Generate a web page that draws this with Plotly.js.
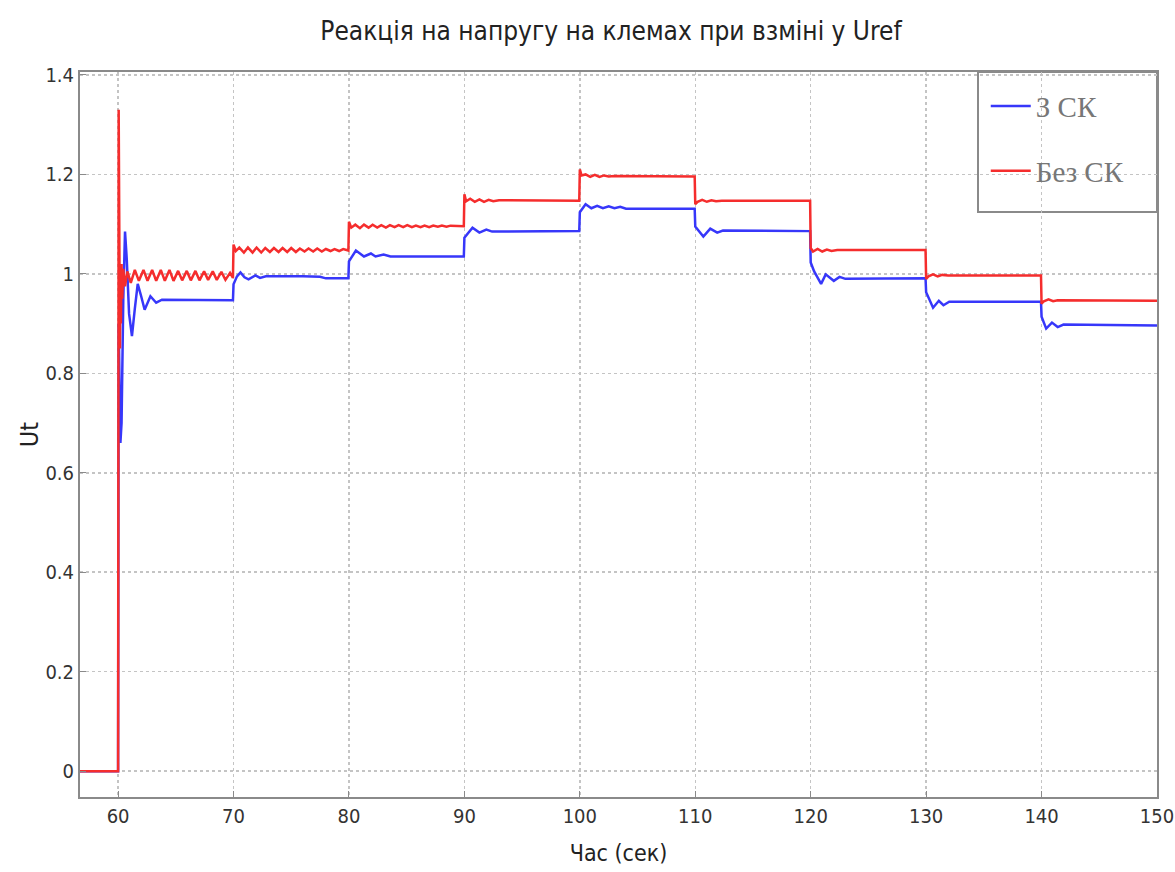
<!DOCTYPE html>
<html>
<head>
<meta charset="utf-8">
<script src="https://cdn.plot.ly/plotly-3.0.1.min.js"></script>
<style>html,body{margin:0;padding:0;background:#fff;}#chart{width:1175px;height:872px;}</style>
</head>
<body>
<div id="chart"></div>
<script>
const chartTitle = "Реакція на напругу на клемах при взміні у Uref";
const xLabel = "Час (сек)";
const yLabel = "Ut";
const seriesNames = ["З СК", "Без СК"];
const xTicks = [60, 70, 80, 90, 100, 110, 120, 130, 140, 150];
const yTicks = [0, 0.2, 0.4, 0.6, 0.8, 1, 1.2, 1.4];

const tWith = [56.5, 60.0, 60.05, 60.12, 60.2, 60.3, 60.45, 60.6, 60.75, 60.95, 61.2, 61.45, 61.7, 62.0, 62.3, 62.8, 63.3, 63.8, 69.95,
  70.0, 70.3, 70.6, 70.95, 71.3, 71.9, 72.3, 72.8, 76.0, 77.5, 78.0, 79.95,
  80.0, 80.6, 81.3, 81.9, 82.3, 83.0, 83.6, 89.95,
  90.0, 90.7, 91.3, 91.9, 92.4, 99.95,
  100.0, 100.5, 101.0, 101.5, 102.0, 102.5, 103.0, 103.5, 104.0, 109.95,
  110.0, 110.7, 111.3, 111.9, 112.4, 119.95,
  120.0, 120.3, 120.9, 121.3, 122.0, 122.5, 123.0, 129.95,
  130.0, 130.6, 131.1, 131.5, 132.0, 139.95,
  140.0, 140.4, 140.9, 141.4, 141.9, 150.0];
const uWith = [0, 0, 0.9, 0.72, 0.66, 0.7, 0.95, 1.085, 1.03, 0.92, 0.875, 0.93, 0.98, 0.955, 0.928, 0.955, 0.942, 0.948, 0.947,
  0.979, 0.995, 1.003, 0.993, 0.989, 0.997, 0.992, 0.995, 0.995, 0.994, 0.991, 0.991,
  1.025, 1.047, 1.035, 1.041, 1.035, 1.039, 1.035, 1.035,
  1.073, 1.093, 1.083, 1.089, 1.085, 1.086,
  1.124, 1.14, 1.132, 1.137, 1.132, 1.136, 1.132, 1.135, 1.131, 1.131,
  1.095, 1.075, 1.091, 1.083, 1.087, 1.086,
  1.023, 1.005, 0.98, 0.999, 0.986, 0.994, 0.99, 0.991,
  0.963, 0.932, 0.946, 0.937, 0.944, 0.944,
  0.914, 0.89, 0.902, 0.893, 0.898, 0.896];

const tWithout = [56.5, 60.0, 60.05, 60.1, 60.13, 60.16, 60.2, 60.24, 60.3, 60.36, 60.45, 60.6, 60.8, 61.1,
  61.45, 61.8, 62.2, 62.55, 62.95, 63.3, 63.7, 64.05, 64.45, 64.8, 65.2, 65.55, 65.95, 66.3, 66.7, 67.05, 67.45, 67.8, 68.2, 68.55, 68.95, 69.3, 69.7, 69.95,
  70.0, 70.2, 70.5, 70.9, 71.25, 71.65, 72.0, 72.4, 72.75, 73.15, 73.5, 73.9, 74.25, 74.65, 75.0, 75.4, 75.75, 76.15, 76.5, 76.9, 77.25, 77.65, 78.0, 78.4, 78.75, 79.15, 79.5, 79.95,
  80.0, 80.2, 80.55, 80.95, 81.3, 81.7, 82.05, 82.45, 82.8, 83.2, 83.55, 83.95, 84.3, 84.7, 85.05, 85.45, 85.8, 86.2, 86.55, 86.95, 87.3, 87.7, 88.05, 88.45, 88.8, 89.95,
  90.0, 90.15, 90.5, 90.9, 91.3, 91.7, 92.1, 92.5, 93.0, 99.95,
  100.0, 100.15, 100.5, 100.9, 101.3, 101.7, 102.1, 102.5, 103.0, 109.95,
  110.0, 110.2, 110.6, 111.0, 111.4, 111.8, 112.3, 119.95,
  120.0, 120.2, 120.6, 121.0, 121.4, 121.8, 122.3, 129.95,
  130.0, 130.2, 130.6, 131.0, 131.4, 131.9, 139.95,
  140.0, 140.2, 140.6, 141.0, 141.4, 150.0];
const uWithout = [0, 0, 1.33, 0.9, 1.02, 0.85, 1.0, 0.9, 1.02, 0.95, 1.01, 0.975, 1.005, 0.982,
  1.008, 0.986, 1.008, 0.986, 1.008, 0.986, 1.008, 0.986, 1.008, 0.986, 1.006, 0.987, 1.006, 0.987, 1.006, 0.987, 1.005, 0.988, 1.005, 0.988, 1.004, 0.988, 1.002, 0.992,
  1.059, 1.046, 1.053, 1.043, 1.053, 1.043, 1.053, 1.043, 1.052, 1.044, 1.052, 1.044, 1.052, 1.044, 1.052, 1.044, 1.051, 1.045, 1.051, 1.045, 1.051, 1.045, 1.05, 1.046, 1.05, 1.046, 1.05, 1.047,
  1.105, 1.093, 1.099, 1.092, 1.099, 1.093, 1.099, 1.093, 1.098, 1.093, 1.098, 1.094, 1.098, 1.094, 1.098, 1.094, 1.097, 1.094, 1.097, 1.094, 1.097, 1.095, 1.097, 1.095, 1.097, 1.096,
  1.16, 1.146, 1.151, 1.145, 1.15, 1.145, 1.149, 1.146, 1.148, 1.147,
  1.21, 1.198, 1.2, 1.195, 1.199, 1.195, 1.198, 1.196, 1.197, 1.196,
  1.14, 1.145, 1.149, 1.145, 1.148, 1.146, 1.147, 1.147,
  1.052, 1.045, 1.05, 1.045, 1.049, 1.046, 1.048, 1.048,
  0.99, 0.995, 0.999, 0.995, 0.998, 0.997, 0.997,
  0.94, 0.945, 0.949, 0.945, 0.947, 0.946];

const narrow = '"Liberation Sans Narrow", "DejaVu Sans Condensed", "Arial Narrow", sans-serif';

const traces = [
  {x: tWith, y: uWith, type: 'scatter', mode: 'lines', name: seriesNames[0], legendgroup: 'a',
   line: {color: 'rgb(55,55,250)', width: 2.5}},
  {x: tWithout, y: uWithout, type: 'scatter', mode: 'lines', name: seriesNames[1], legendgroup: 'b',
   line: {color: 'rgb(245,45,45)', width: 2.5}}
];

const axisCommon = {
  showgrid: true, gridcolor: '#c4c4c4', griddash: 'dot', gridwidth: 1.5,
  showline: true, linecolor: '#8a8a8a', linewidth: 2, mirror: true,
  ticks: 'inside', ticklen: 6, tickcolor: '#8a8a8a', zeroline: false,
  tickfont: {family: narrow, size: 20, color: '#333'}
};

const layout = {
  width: 1175, height: 872,
  paper_bgcolor: '#fff', plot_bgcolor: '#fff',
  margin: {l: 80, r: 18, t: 72, b: 75},
  title: {text: chartTitle, x: 0.52, xanchor: 'center', y: 0.965, yanchor: 'middle',
          font: {family: narrow, size: 26, color: '#222'}},
  xaxis: Object.assign({}, axisCommon, {range: [56.7, 150], tickvals: xTicks, ticktext: xTicks.map(String),
          automargin: false,
          title: {text: xLabel, standoff: 18, font: {family: narrow, size: 23, color: '#222'}}}),
  yaxis: Object.assign({}, axisCommon, {range: [-0.052, 1.406], tickvals: yTicks, ticktext: yTicks.map(String),
          automargin: false,
          title: {text: yLabel, standoff: 0, font: {family: narrow, size: 25, color: '#222'}}}),
  showlegend: true,
  legend: {x: 0.841, xanchor: 'left', y: 0.988, yanchor: 'top', bgcolor: 'rgba(0,0,0,0)', borderwidth: 0,
           font: {family: '"Liberation Serif", serif', size: 29, color: '#777'},
           itemwidth: 40, tracegroupgap: 24},
  shapes: [{type: 'rect', xref: 'paper', yref: 'paper', x0: 0.8338, x1: 1, y0: 0.807, y1: 1,
            line: {color: '#8a8a8a', width: 2}, fillcolor: '#fff', layer: 'below'}]
};

Plotly.newPlot('chart', traces, layout, {displayModeBar: false, staticPlot: true});
</script>
</body>
</html>
